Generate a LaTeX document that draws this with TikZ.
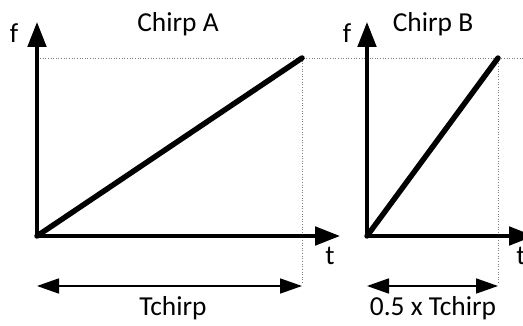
\documentclass[tikz,border=0pt]{standalone}
\usepackage{fontspec}
\setmainfont{Carlito}
\usetikzlibrary{arrows.meta}
\tikzset{
  axis/.style={line width=2pt,-{Triangle[length=0.5cm,width=0.37cm]}},
  chirp/.style={line width=3.1pt,line cap=round},
  guide/.style={densely dotted,gray,line width=0.5pt},
  span/.style={line width=1pt,{Triangle[length=0.44cm,width=0.3cm]}-{Triangle[length=0.44cm,width=0.3cm]}},
  lbl/.style={font=\fontsize{15.6}{17}\selectfont}
}
\begin{document}
\begin{tikzpicture}
\clip (0,0) rectangle (10.46,6.5);

% chirp A
\coordinate (oA) at (0.74,1.78);
\coordinate (fA) at (0.74,6.06);
\coordinate (tA) at (6.80,1.78);
\coordinate (eA) at (6.04,5.34);
\coordinate (gA) at (6.04,0.84);
\coordinate (sA) at (0.74,0.78);
\coordinate (rA) at (6.04,0.78);

% chirp B
\coordinate (oB) at (7.34,1.78);
\coordinate (fB) at (7.34,6.06);
\coordinate (tB) at (10.68,1.78);
\coordinate (eB) at (9.96,5.34);
\coordinate (gB) at (9.96,0.84);
\coordinate (sB) at (7.34,0.78);
\coordinate (rB) at (9.96,0.78);

\coordinate (hL) at (0.80,5.34);
\coordinate (hR) at (10.46,5.34);

\draw[guide] (hL) -- (hR);
\draw[guide] (eA) -- (gA);
\draw[guide] (eB) -- (gB);

\draw[axis] (oA) -- (fA);
\draw[axis] (oA) -- (tA);
\draw[chirp] (oA) -- (eA);
\draw[span] (sA) -- (rA);

\draw[axis] (oB) -- (fB);
\draw[axis] (oB) -- (tB);
\draw[chirp] (oB) -- (eB);
\draw[span] (sB) -- (rB);

\node[lbl] (titleA) at (3.56,6.02) {Chirp A};
\node[lbl] (fLabA) at (0.28,5.84) {f};
\node[lbl] (tLabA) at (6.60,1.38) {t};
\node[lbl] (durA) at (3.46,0.34) {Tchirp};

\node[lbl] (titleB) at (8.66,6.02) {Chirp B};
\node[lbl] (fLabB) at (6.94,5.84) {f};
\node[lbl] (tLabB) at (10.42,1.38) {t};
\node[lbl] (durB) at (8.66,0.34) {0.5 x Tchirp};
\end{tikzpicture}
\end{document}
